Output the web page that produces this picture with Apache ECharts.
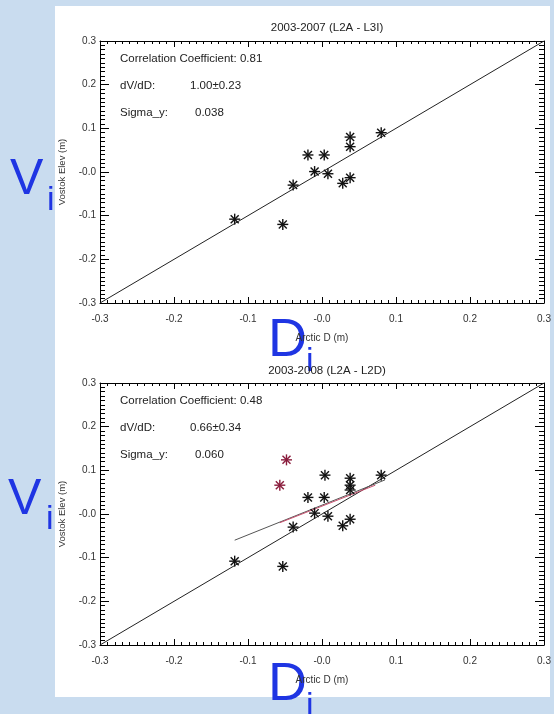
<!DOCTYPE html>
<html><head><meta charset="utf-8">
<script src="https://cdn.jsdelivr.net/npm/echarts@6/dist/echarts.min.js"></script>
<style>html,body{margin:0;padding:0;background:#c9dcef;}#c{width:554px;height:714px;}</style>
</head><body><div id="c"></div>
<script>
// ---- data ----
const titles = ['2003-2007 (L2A - L3I)', '2003-2008 (L2A - L2D)'];
const xTickLabels = ['-0.3', '-0.2', '-0.1', '-0.0', '0.1', '0.2', '0.3'];
const yTickLabels = ['-0.3', '-0.2', '-0.1', '-0.0', '0.1', '0.2', '0.3'];
const topArcticD = [-0.118, -0.053, -0.039, -0.019, -0.010, 0.003, 0.008, 0.028, 0.038, 0.038, 0.038, 0.080];
const topVostok  = [-0.108, -0.120, -0.030, 0.039, 0.001, 0.039, -0.004, -0.026, -0.013, 0.058, 0.080, 0.090];
const botArcticD = [-0.118, -0.053, -0.039, -0.019, -0.010, 0.003, 0.004, 0.008, 0.028, 0.038, 0.038, 0.038, 0.038, 0.080];
const botVostok  = [-0.108, -0.120, -0.030, 0.038, 0.002, 0.038, 0.089, -0.005, -0.027, -0.012, 0.055, 0.066, 0.082, 0.089];
const redArcticD = [-0.048, -0.057];
const redVostok  = [0.124, 0.066];
const oneToOneX = [-0.3, 0.3];
const oneToOneY = [-0.3, 0.3];
const fitBlackX = [-0.118, 0.085];
const fitBlackY = [-0.060, 0.078];
const fitRedX = [-0.057, 0.072];
const fitRedY = [-0.020, 0.066];
const statsTop = ['Correlation Coefficient: 0.81', 'dV/dD:', '1.00±0.23', 'Sigma_y:', '0.038'];
const statsBot = ['Correlation Coefficient: 0.48', 'dV/dD:', '0.66±0.34', 'Sigma_y:', '0.060'];
const xName = 'Arctic D (m)';
const yName = 'Vostok Elev (m)';

const zip = (a, b) => a.map((v, i) => [v, b[i]]);
const FONT = 'Liberation Sans';
const grids = [{left: 100, top: 41, width: 444, height: 262}, {left: 100, top: 383, width: 444, height: 262}];

function xAx(gi, pos, labels) {
  return {
    type: 'value', gridIndex: gi, position: pos, min: -0.3, max: 0.3, interval: 0.1,
    axisLine: {show: true, onZero: false, lineStyle: {color: '#000', width: 1}},
    axisTick: {show: true, inside: true, length: 6, lineStyle: {color: '#000'}},
    minorTick: {show: true, splitNumber: 10, length: 3, lineStyle: {color: '#000'}},
    splitLine: {show: false},
    axisLabel: {show: labels, color: '#333', fontFamily: FONT, fontSize: 10, margin: 11,
      formatter: v => xTickLabels[Math.round((v + 0.3) / 0.1)]},
    name: labels ? xName : '', nameLocation: 'middle', nameGap: 30,
    nameTextStyle: {color: '#333', fontFamily: FONT, fontSize: 10}
  };
}
function yAx(gi, pos, labels) {
  return {
    type: 'value', gridIndex: gi, position: pos, min: -0.3, max: 0.3, interval: 0.1,
    axisLine: {show: true, onZero: false, lineStyle: {color: '#000', width: 1}},
    axisTick: {show: true, inside: true, length: 9, lineStyle: {color: '#000'}},
    minorTick: {show: true, splitNumber: 10, length: 5, lineStyle: {color: '#000'}},
    splitLine: {show: false},
    axisLabel: {show: labels, color: '#333', fontFamily: FONT, fontSize: 10, margin: 4,
      formatter: v => yTickLabels[Math.round((v + 0.3) / 0.1)]},
    name: labels ? yName : '', nameLocation: 'middle', nameGap: 26, nameRotate: 90,
    nameTextStyle: {color: '#333', fontFamily: FONT, fontSize: 9.5}
  };
}

function asterisk(color) {
  return function (params, api) {
    const p = api.coord([api.value(0), api.value(1)]);
    const r = 5.5, d = 4;
    const st = {stroke: color, lineWidth: 1.4};
    return {type: 'group', children: [
      {type: 'line', shape: {x1: p[0] - r, y1: p[1], x2: p[0] + r, y2: p[1]}, style: st},
      {type: 'line', shape: {x1: p[0], y1: p[1] - r, x2: p[0], y2: p[1] + r}, style: st},
      {type: 'line', shape: {x1: p[0] - d, y1: p[1] - d, x2: p[0] + d, y2: p[1] + d}, style: st},
      {type: 'line', shape: {x1: p[0] - d, y1: p[1] + d, x2: p[0] + d, y2: p[1] - d}, style: st}
    ]};
  };
}
function stars(gi, xs, ys, color) {
  return {type: 'custom', xAxisIndex: gi * 2, yAxisIndex: gi * 2, data: zip(xs, ys), renderItem: asterisk(color), z: 5};
}
function line(gi, xs, ys, color, w) {
  return {type: 'line', xAxisIndex: gi * 2, yAxisIndex: gi * 2, data: zip(xs, ys), symbol: 'none',
    lineStyle: {color: color, width: w}, z: 3, animation: false};
}

function statsText(top, s) {
  const st = {fill: '#222', font: '11.5px "' + FONT + '"'};
  return [
    {type: 'text', left: 120, top: top, style: Object.assign({text: s[0]}, st)},
    {type: 'text', left: 120, top: top + 27, style: Object.assign({text: s[1]}, st)},
    {type: 'text', left: 190, top: top + 27, style: Object.assign({text: s[2]}, st)},
    {type: 'text', left: 120, top: top + 54, style: Object.assign({text: s[3]}, st)},
    {type: 'text', left: 195, top: top + 54, style: Object.assign({text: s[4]}, st)}
  ];
}
const BLUE = '#1f35e3';
function bigLabel(x, y, main, size) {
  return [
    {type: 'text', left: x, top: y, style: {text: main, fill: BLUE, font: size + 'px "Liberation Sans"'}}
  ];
}

const chart = echarts.init(document.getElementById('c'));
chart.setOption({
  animation: false,
  backgroundColor: '#c9dcef',
  title: [
    {text: titles[0], left: 322, top: 17, textAlign: 'center', textStyle: {fontFamily: FONT, fontSize: 11.5, fontWeight: 'normal', color: '#222'}},
    {text: titles[1], left: 322, top: 360, textAlign: 'center', textStyle: {fontFamily: FONT, fontSize: 11.5, fontWeight: 'normal', color: '#222'}}
  ],
  grid: grids,
  xAxis: [xAx(0, 'bottom', true), xAx(0, 'top', false), xAx(1, 'bottom', true), xAx(1, 'top', false)],
  yAxis: [yAx(0, 'left', true), yAx(0, 'right', false), yAx(1, 'left', true), yAx(1, 'right', false)],
  series: [
    line(0, oneToOneX, oneToOneY, '#222', 1),
    stars(0, topArcticD, topVostok, '#111'),
    line(1, oneToOneX, oneToOneY, '#222', 1),
    line(1, fitBlackX, fitBlackY, '#555', 1),
    line(1, fitRedX, fitRedY, '#c8506e', 1),
    stars(1, botArcticD, botVostok, '#111'),
    stars(1, redArcticD, redVostok, '#8a1c3c')
  ],
  graphic: [
    {type: 'rect', shape: {x: 55, y: 6, width: 495, height: 691}, style: {fill: '#ffffff'}, z: -10, silent: true},
    ...statsText(53, statsTop),
    ...statsText(395, statsBot),
    ...bigLabel(10, 155, 'V', 50),
    ...bigLabel(47, 184, 'i', 34),
    ...bigLabel(8, 475, 'V', 50),
    ...bigLabel(46, 503, 'i', 34),
    ...bigLabel(268, 314, 'D', 54),
    ...bigLabel(306, 345, 'i', 34),
    ...bigLabel(268, 658, 'D', 54),
    ...bigLabel(306, 690, 'i', 34)
  ]
});
</script></body></html>
